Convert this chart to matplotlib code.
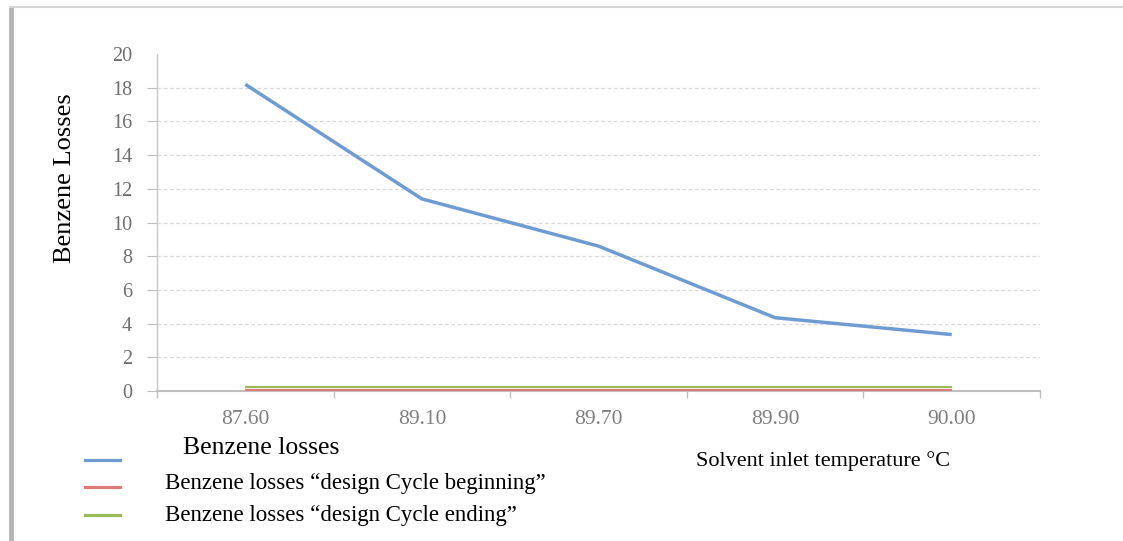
import numpy as np
import matplotlib
matplotlib.use('Agg')
import matplotlib.pyplot as plt
from matplotlib.lines import Line2D

plt.rcParams['font.family'] = ['Liberation Serif', 'DejaVu Serif']

# data
temps = ['87.60', '89.10', '89.70', '89.90', '90.00']
losses = [18.2, 11.4, 8.6, 4.35, 3.35]
design_begin = [0.05, 0.05, 0.05, 0.05, 0.05]
design_end = [0.22, 0.22, 0.22, 0.22, 0.22]
yticks = list(range(0, 21, 2))

c_blue = '#6f9bd3'
c_red = '#de7b78'
c_green = '#9bbb59'
grey = '#bfbfbf'

fig = plt.figure(figsize=(11.23, 5.41), dpi=100)
ax = fig.add_axes([157/1123, 1 - 391/541, (1040-157)/1123, (391-54)/541])

xs = np.arange(len(temps))
ax.plot(xs, design_begin, color=c_red, lw=1.6, solid_capstyle='butt', zorder=3)
ax.plot(xs, design_end, color=c_green, lw=1.6, solid_capstyle='butt', zorder=3)
ax.plot(xs, losses, color=c_blue, lw=2.5, solid_capstyle='butt', zorder=3)

ax.set_xlim(-0.5, len(temps) - 0.5)
ax.set_ylim(0, 20)

# category boundaries get the tick marks, labels sit in the middle
ax.set_xticks(np.arange(-0.5, len(temps)))
ax.set_xticklabels([])
ax.set_xticks(xs, minor=True)
ax.set_xticklabels(temps, minor=True)
ax.tick_params(axis='x', which='major', length=5, width=1, color=grey, direction='out')
ax.tick_params(axis='x', which='minor', length=0, pad=14, labelsize=15.5, labelcolor='#7f7f7f')

ax.set_yticks(yticks)
ax.tick_params(axis='y', length=7, width=0.8, color=grey, pad=11, labelsize=14.5, labelcolor='#6f6f6f')

ax.grid(axis='y', color='#d9d9d9', lw=0.9, ls=(0, (3, 2)))
ax.yaxis.get_gridlines()[-1].set_visible(False)
ax.yaxis.get_major_ticks()[-1].tick1line.set_visible(False)
ax.yaxis.get_major_ticks()[0].gridline.set_visible(False)

for s in ['top', 'right']:
    ax.spines[s].set_visible(False)
ax.spines['bottom'].set_color(grey)
ax.spines['bottom'].set_linewidth(1.5)
ax.spines['left'].set_color('#c8c8c8')
ax.spines['left'].set_linestyle((0, (1, 1)))
ax.spines['left'].set_linewidth(1.0)
ax.set_axisbelow(True)

fig.text(65/1123, 1 - 178/541, 'Benzene Losses', rotation=90, ha='center', va='center',
         fontsize=19, color='black')
fig.text(823/1123, 1 - 461/541, 'Solvent inlet temperature \u00b0C', ha='center', va='center',
         fontsize=16, color='black')

# hand-made legend
leg = [
    ('Benzene losses', c_blue, 460, 183, 448, 18.5),
    ('Benzene losses \u201cdesign Cycle beginning\u201d', c_red, 487, 165, 484, 16.5),
    ('Benzene losses \u201cdesign Cycle ending\u201d', c_green, 515, 165, 515, 16.5),
]
for label, col, ly, tx, ty, fs in leg:
    fig.add_artist(Line2D([85/1123, 120/1123], [1 - ly/541, 1 - ly/541],
                          transform=fig.transFigure, color=col, lw=2.3))
    fig.text(tx/1123, 1 - ty/541, label, ha='left', va='center', fontsize=fs, color='black')

# page frame
fig.add_artist(Line2D([11/1123, 11/1123], [0, 1 - 8/541], transform=fig.transFigure,
                      color='#b5b5b5', lw=3.5))
fig.add_artist(Line2D([10/1123, 1], [1 - 7/541, 1 - 7/541], transform=fig.transFigure,
                      color='#d5d5d5', lw=1.5))

fig.savefig('out.png', dpi=100)
